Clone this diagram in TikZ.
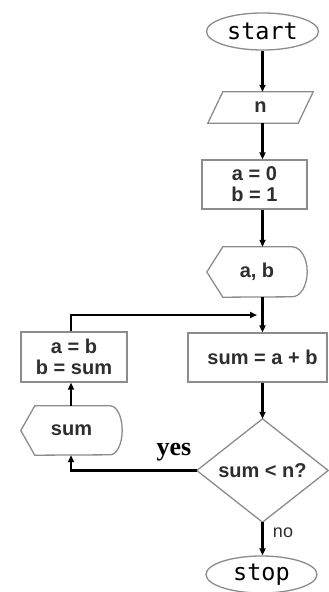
\documentclass[tikz,border=0pt]{standalone}
\usepackage{fontspec}
\setmainfont{Liberation Sans}
\newfontfamily\monof{DejaVu Sans Mono}
\newfontfamily\seriff{Liberation Serif}
\usetikzlibrary{shapes.geometric,arrows.meta}
\definecolor{shapegray}{HTML}{8C8C8C}
\definecolor{txt}{HTML}{2E2E2E}
\begin{document}
\begin{tikzpicture}[x=1pt,y=-1pt]
\tikzset{
 shp/.style={draw=shapegray, line width=1.3pt},
 lbl/.style={text=txt, font=\bfseries\fontsize{20}{21}\selectfont, inner sep=0pt},
 term/.style={ellipse, shp, inner sep=0pt, text=black, font=\monof\fontsize{23.5}{23.5}\selectfont},
 conn/.style={line width=2.2pt, -{Triangle[length=7pt,width=6pt]}},
 plain/.style={line width=2.2pt}
}
\useasboundingbox (0,0) rectangle (329,592);
\fill[white] (0,0) rectangle (329,592);

% main column
\node[term, minimum width=112pt, minimum height=37pt] (start) at (262.5,31.5) {start};

\node[lbl, minimum width=105pt, minimum height=31pt] (n) at (260.5,107.5) {n};
\draw[shp] ([xshift=15pt]n.north west) -- (n.north east) -- ([xshift=-15pt]n.south east) -- (n.south west) -- cycle;

\node[lbl, shp, align=center, minimum width=105pt, minimum height=49pt] (init) at (254.5,184.5) {a = 0\\b = 1};

\node[lbl, minimum width=100pt, minimum height=50pt] (out) at (257,272) {a, b};
\draw[shp] (out.west) -- ([xshift=16pt]out.north west) -- ([xshift=-15pt]out.north east)
  arc[start angle=90,end angle=-90,x radius=15pt,y radius=25pt]
  -- ([xshift=16pt]out.south west) -- cycle;

\node[lbl, shp, minimum width=139pt, minimum height=49pt] (sum) at (257.5,357.5) {\hspace*{10pt}sum = a + b};

\node[lbl, minimum width=131pt, minimum height=103pt] (cond) at (262.5,470.5) {sum < n?};
\draw[shp] (cond.north) -- (cond.east) -- (cond.south) -- (cond.west) -- cycle;

\node[term, minimum width=111pt, minimum height=37pt] (stop) at (261.5,574.5) {stop};

% left column
\coordinate (lx) at (71,0);
\node[lbl, shp, align=center, minimum width=106pt, minimum height=50pt] (upd) at (74,357) {a = b\\b = sum};

\node[lbl, minimum width=101pt, minimum height=49pt] (outs) at (71.5,430.5) {sum};
\draw[shp] (outs.west) -- ([xshift=14pt]outs.north west) -- ([xshift=-12pt]outs.north east)
  arc[start angle=90,end angle=-90,x radius=12pt,y radius=24.5pt]
  -- ([xshift=14pt]outs.south west) -- cycle;

% connectors
\draw[conn] (start.south) -- (start.south |- n.north);
\draw[conn] (start.south |- n.south) -- (start.south |- init.north);
\draw[conn] (start.south |- init.south) -- (start.south |- out.north);
\draw[conn] (start.south |- out.south) -- (start.south |- sum.north);
\draw[conn] (start.south |- sum.south) -- (cond.north);
\draw[conn] (cond.south) -- (cond.south |- stop.north);
\node[text=txt, font=\fontsize{18}{18}\selectfont, inner sep=0pt] (nolbl) at (283,533) {no};

\coordinate (lp) at (257,315);
\draw[conn] (lx |- upd.north) -- (lx |- lp) -- (lp);

\draw[conn] (cond.west) -- (lx |- cond.west) -- (lx |- outs.south);
\node[font=\seriff\bfseries\fontsize{26}{26}\selectfont, inner sep=0pt] (yeslbl) at (174,452) {yes};

\draw[conn] (lx |- outs.north) -- (lx |- upd.south);
\end{tikzpicture}
\end{document}
